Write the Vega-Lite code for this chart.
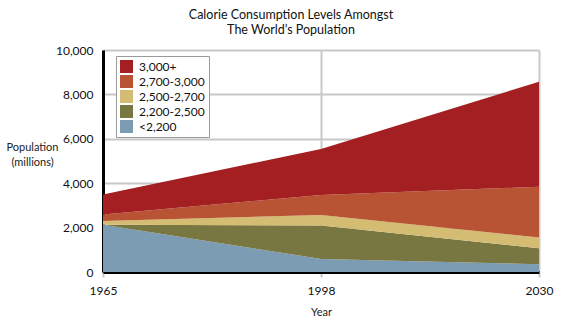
{
  "$schema": "https://vega.github.io/schema/vega-lite/v6.json",
  "autosize": {"type": "none"},
  "width": 436,
  "height": 222,
  "padding": {"left": 103, "top": 50, "right": 24, "bottom": 58},
  "background": "white",
  "config": {
    "font": "Lato",
    "view": {"stroke": null}
  },
  "title": {
    "text": ["Calorie Consumption Levels Amongst", "The World’s Population"],
    "font": "Lato",
    "fontSize": 12.5,
    "fontWeight": "normal",
    "color": "#111111",
    "anchor": "middle",
    "dx": -30,
    "offset": 8,
    "lineHeight": 15
  },
  "data": {
    "values": [
      {"Year": "1965", "Level": "<2,200", "rank": 1, "Population": 2130},
      {"Year": "1965", "Level": "2,200-2,500", "rank": 2, "Population": 0},
      {"Year": "1965", "Level": "2,500-2,700", "rank": 3, "Population": 170},
      {"Year": "1965", "Level": "2,700-3,000", "rank": 4, "Population": 290},
      {"Year": "1965", "Level": "3,000+", "rank": 5, "Population": 900},
      {"Year": "1998", "Level": "<2,200", "rank": 1, "Population": 590},
      {"Year": "1998", "Level": "2,200-2,500", "rank": 2, "Population": 1500},
      {"Year": "1998", "Level": "2,500-2,700", "rank": 3, "Population": 480},
      {"Year": "1998", "Level": "2,700-3,000", "rank": 4, "Population": 900},
      {"Year": "1998", "Level": "3,000+", "rank": 5, "Population": 2070},
      {"Year": "2030", "Level": "<2,200", "rank": 1, "Population": 350},
      {"Year": "2030", "Level": "2,200-2,500", "rank": 2, "Population": 720},
      {"Year": "2030", "Level": "2,500-2,700", "rank": 3, "Population": 480},
      {"Year": "2030", "Level": "2,700-3,000", "rank": 4, "Population": 2290},
      {"Year": "2030", "Level": "3,000+", "rank": 5, "Population": 4730}
    ]
  },
  "mark": {"type": "area", "opacity": 1},
  "encoding": {
    "x": {
      "field": "Year",
      "type": "ordinal",
      "scale": {"type": "point", "padding": 0},
      "axis": {
        "title": "Year",
        "labelAngle": 0,
        "labelFontSize": 12,
        "labelColor": "#111111",
        "labelPadding": 8,
        "titleFontSize": 11,
        "titleFontWeight": "normal",
        "titleColor": "#222222",
        "titlePadding": 10,
        "domainColor": "#000000",
        "domainWidth": 3,
        "tickColor": "#c8c8c8",
        "tickWidth": 2,
        "tickSize": 5,
        "grid": true,
        "gridColor": "#c8c8c8",
        "gridWidth": 2
      }
    },
    "y": {
      "field": "Population",
      "type": "quantitative",
      "stack": "zero",
      "scale": {"domain": [0, 10000], "nice": false},
      "axis": {
        "values": [0, 2000, 4000, 6000, 8000, 10000],
        "format": ",d",
        "title": ["Population", "(millions)"],
        "titleAngle": 0,
        "titleX": -71,
        "titleY": 91,
        "titleAlign": "center",
        "titleBaseline": "top",
        "titleFontSize": 11,
        "titleFontWeight": "normal",
        "titleColor": "#222222",
        "titleLineHeight": 15,
        "labelFontSize": 12,
        "labelColor": "#111111",
        "labelPadding": 10,
        "domainColor": "#000000",
        "domainWidth": 3,
        "ticks": false,
        "grid": true,
        "gridColor": "#c8c8c8",
        "gridWidth": 2
      }
    },
    "color": {
      "field": "Level",
      "type": "nominal",
      "scale": {
        "domain": ["3,000+", "2,700-3,000", "2,500-2,700", "2,200-2,500", "<2,200"],
        "range": ["#a31f21", "#b85434", "#d4bd73", "#787741", "#7b9cb2"]
      },
      "legend": {
        "title": null,
        "orient": "none",
        "legendX": 13,
        "legendY": 6,
        "padding": 4,
        "strokeColor": "#9a9a9a",
        "fillColor": "white",
        "symbolType": "square",
        "symbolSize": 169,
        "symbolStrokeWidth": 0,
        "symbolOpacity": 1,
        "rowPadding": 2,
        "labelFontSize": 12,
        "labelColor": "#111111",
        "labelOffset": 6
      }
    },
    "order": {"field": "rank", "type": "quantitative"}
  }
}
